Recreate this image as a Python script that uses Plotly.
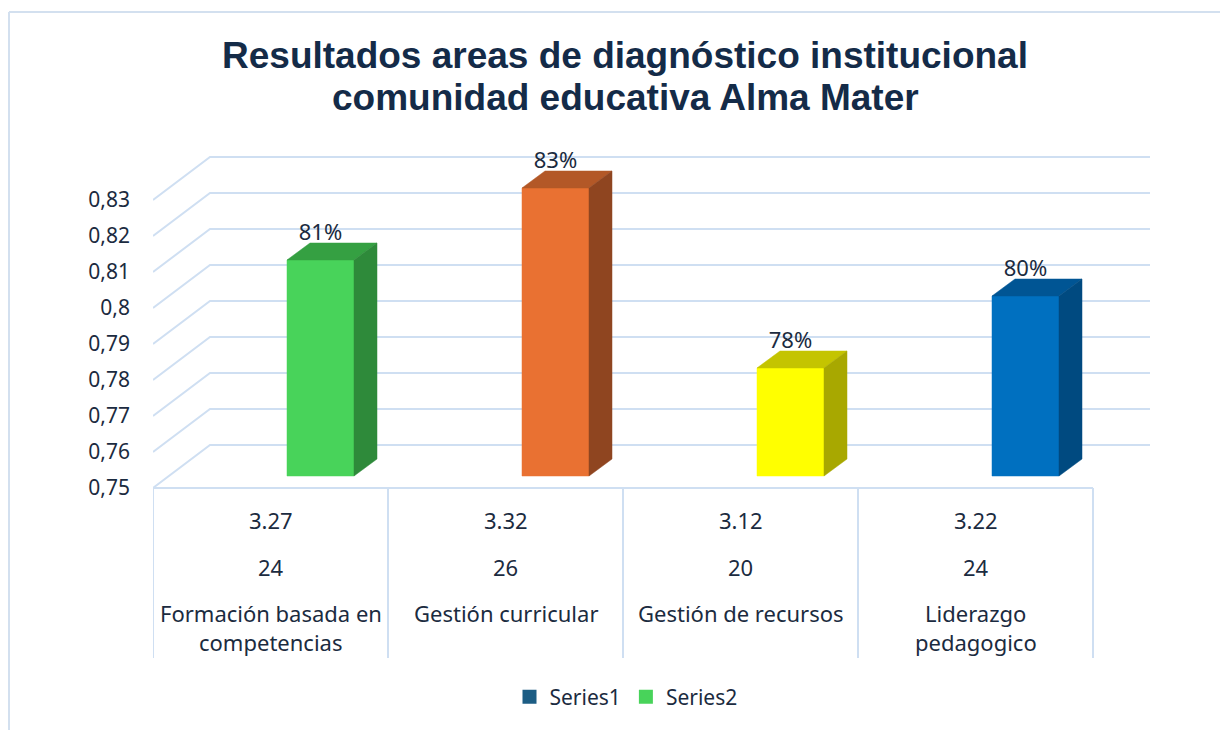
import plotly.graph_objects as go

# ---------------- data ----------------
categories = ["Formación basada en\ncompetencias", "Gestión curricular",
              "Gestión de recursos", "Liderazgo\npedagogico"]
scores = ["3.27", "3.32", "3.12", "3.22"]
counts = ["24", "26", "20", "24"]
values = [0.81, 0.83, 0.78, 0.80]
value_labels = ["81%", "83%", "78%", "80%"]
tick_vals = [0.75, 0.76, 0.77, 0.78, 0.79, 0.80, 0.81, 0.82, 0.83]
tick_text = ["0,75", "0,76", "0,77", "0,78", "0,79", "0,8", "0,81", "0,82", "0,83"]
legend_names = ["Series1", "Series2"]
title_lines = ["Resultados areas de diagnóstico institucional", "comunidad educativa Alma Mater"]

# ---------------- styles ----------------
front_colors = ["#48d35a", "#e97132", "#ffff00", "#0070c0"]
top_colors = ["#35a042", "#b35827", "#c4c400", "#005594"]
side_colors = ["#2e8a3a", "#8f4520", "#a8a800", "#004a80"]
legend_colors = ["#1c5d84", "#48d35a"]
grid_color = "#cfdff2"
text_color = "#1b2b40"
FONT = "Noto Sans"

OFF = 8                 # page body margin
W, H = 1228 - OFF, 730 - OFF
ML, MR, MT, MB = 153 - OFF, 60, 130 - OFF, 60
PW, PH = W - ML - MR, H - MT - MB
CAT_PX = 235.0          # pixels per category
VAL_PX = 3600.0         # pixels per unit of value
FRONT_BASE_PX = 488 - OFF
X0 = -0.5
X1 = X0 + PW / CAT_PX
Y_BASE = 0.75
Y0 = Y_BASE - (H - MB - FRONT_BASE_PX) / VAL_PX
Y1 = Y_BASE + (FRONT_BASE_PX - MT) / VAL_PX

px_x = lambda p: p / CAT_PX
px_y = lambda p: p / VAL_PX

def pxp(px):   # reference window px -> paper x
    return (px - OFF - ML) / PW
def pyp(py):   # reference window px -> paper y
    return (H - MB - (py - OFF)) / PH

# perspective offsets (pixels)
WALL_DX, WALL_DY = 57, 43
BAR_DX, BAR_DY = 23, 17
BAR_LIFT = 12
BAR_L, BAR_R = 16.5, 83.5

fig = go.Figure()
n = len(categories)

# perspective gridlines
for t in tick_vals:
    xs = [X0, X0 + px_x(WALL_DX), X0 + n + px_x(WALL_DX)]
    ys = [t, t + px_y(WALL_DY), t + px_y(WALL_DY)]
    fig.add_trace(go.Scatter(x=xs, y=ys, mode="lines", line=dict(color=grid_color, width=2),
                             hoverinfo="skip", showlegend=False))

# table lines (floor front edge + vertical separators)
table_bottom = Y_BASE - px_y(170)
fig.add_trace(go.Scatter(x=[X0, X0 + n], y=[Y_BASE, Y_BASE], mode="lines",
                         line=dict(color=grid_color, width=2), hoverinfo="skip", showlegend=False))
for i in range(n + 1):
    fig.add_trace(go.Scatter(x=[X0 + i, X0 + i], y=[Y_BASE, table_bottom], mode="lines",
                             line=dict(color=grid_color, width=2), hoverinfo="skip", showlegend=False))

# bars (front, top, side faces)
base = Y_BASE + px_y(BAR_LIFT)
dx, dy = px_x(BAR_DX), px_y(BAR_DY)
for i, v in enumerate(values):
    L = i + px_x(BAR_L)
    R = i + px_x(BAR_R)
    T = v + px_y(BAR_LIFT)
    faces = [
        ([L, R, R, L, L], [base, base, T, T, base], front_colors[i]),
        ([L, R, R + dx, L + dx, L], [T, T, T + dy, T + dy, T], top_colors[i]),
        ([R, R + dx, R + dx, R, R], [base, base + dy, T + dy, T, base], side_colors[i]),
    ]
    for xs, ys, col in faces:
        fig.add_trace(go.Scatter(x=xs, y=ys, fill="toself", fillcolor=col, mode="lines",
                                 line=dict(width=0.5, color=col),
                                 hoverinfo="skip", showlegend=False))

# data labels
bx = [i + px_x((BAR_L + BAR_R) / 2) for i in range(n)]
fig.add_trace(go.Scatter(x=bx, y=[v + px_y(BAR_LIFT + 26) for v in values], mode="text",
                         text=value_labels, textposition="middle center",
                         textfont=dict(family=FONT, size=22, color=text_color),
                         hoverinfo="skip", showlegend=False))

# legend entries
for name, col in zip(legend_names, legend_colors):
    fig.add_trace(go.Scatter(x=[None], y=[None], name=name, mode="markers",
                             marker=dict(symbol="square", size=14, color=col)))

# table text
ann = []
TF = dict(family=FONT, size=22, color=text_color)
for i in range(n):
    ann.append(dict(x=i, y=Y_BASE - px_y(32), text=scores[i], showarrow=False, font=TF))
    ann.append(dict(x=i, y=Y_BASE - px_y(79), text=counts[i], showarrow=False, font=TF))
    for k, line in enumerate(categories[i].split("\n")):
        ann.append(dict(x=i, y=Y_BASE - px_y(125 + 29 * k), text=line, showarrow=False, font=TF))

# title lines
for k, (line, py) in enumerate(zip(title_lines, [55, 98])):
    ann.append(dict(xref="paper", yref="paper", x=pxp(625), y=pyp(py), text="<b>" + line + "</b>",
                    showarrow=False, xanchor="center", yanchor="middle",
                    font=dict(family="Liberation Sans", size=37, color="#142b48")))

# outer chart border
shapes = [
    dict(type="line", xref="paper", yref="paper", x0=pxp(9), x1=pxp(9), y0=pyp(12), y1=pyp(740),
         line=dict(color="#d3e0ef", width=2)),
    dict(type="line", xref="paper", yref="paper", x0=pxp(9), x1=pxp(1240), y0=pyp(12), y1=pyp(12),
         line=dict(color="#d3e0ef", width=2)),
]

fig.update_layout(
    width=W, height=H, autosize=False,
    margin=dict(l=ML, r=MR, t=MT, b=MB),
    paper_bgcolor="white", plot_bgcolor="white",
    xaxis=dict(range=[X0, X1], visible=False, fixedrange=True),
    yaxis=dict(range=[Y0, Y1], tickvals=tick_vals, ticktext=tick_text, showgrid=False,
               zeroline=False, showline=False, ticks="", ticklabelstandoff=22,
               tickfont=dict(family=FONT, size=21, color=text_color), fixedrange=True),
    legend=dict(orientation="h", x=pxp(626), xanchor="center", y=pyp(697), yanchor="middle",
                font=dict(family=FONT, size=21, color=text_color), itemclick=False,
                itemsizing="trace", traceorder="normal"),
    annotations=ann,
    shapes=shapes,
    showlegend=True,
)

fig.write_html("out.html")
